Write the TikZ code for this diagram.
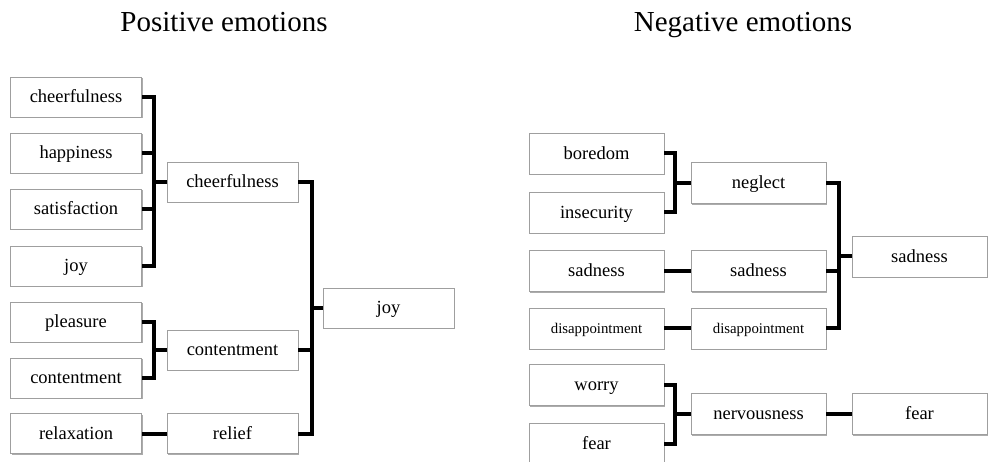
\documentclass[tikz,border=0pt]{standalone}
\usepackage{fontspec}
\setmainfont{Liberation Serif}
\usetikzlibrary{shadows}
\begin{document}
\begin{tikzpicture}[x=1pt,y=-1pt,
  emobox/.style={draw=gray!75,line width=0.8pt,fill=white,
    drop shadow={shadow xshift=1.3pt,shadow yshift=-1.3pt,fill=gray!65,opacity=1},
    minimum height=40pt,inner sep=0pt,text height=14pt,text depth=2.5pt,
    font=\fontsize{18.5}{20}\selectfont},
  colL/.style={emobox,minimum width=131pt},
  colR/.style={emobox,minimum width=135pt,minimum height=41pt},
  small/.style={font=\fontsize{14.8}{16}\selectfont,text height=12pt,text depth=1pt},
  br/.style={line width=4pt,line join=miter,black},
  title/.style={font=\fontsize{29}{32}\selectfont,inner sep=0pt,anchor=base}]
\useasboundingbox (0,0) rectangle (988,462);
\clip (0,0) rectangle (988,462);
\fill[white] (0,0) rectangle (988,462);

\node[title] (tpos) at (224,32) {Positive emotions};
\node[title] (tneg) at (743,32) {Negative emotions};

% ---- Positive ----
\node[colL] (p1) at (76,97) {cheerfulness};
\node[colL] (p2) at (76,153) {happiness};
\node[colL] (p3) at (76,209) {satisfaction};
\node[colL] (p4) at (76,266) {joy};
\node[colL] (p5) at (76,322) {pleasure};
\node[colL] (p6) at (76,378) {contentment};
\node[colL] (p7) at (76,433.5) {relaxation};

\node[colL] (q1) at (232.5,182) {cheerfulness};
\node[colL] (q2) at (232.5,350) {contentment};
\node[colL] (q3) at (232.5,433.5) {relief};

\node[colL] (r1) at (388.5,308) {joy};

\coordinate (xa) at (154,0);
\coordinate (xb) at (312,0);

\draw[br] (p1.east) -- (p1.east -| xa) -- (p4.east -| xa) -- (p4.east);
\draw[br] (p2.east) -- (p2.east -| xa);
\draw[br] (p3.east) -- (p3.east -| xa);
\draw[br] (q1.west -| xa) -- (q1.west);

\draw[br] (p5.east) -- (p5.east -| xa) -- (p6.east -| xa) -- (p6.east);
\draw[br] (q2.west -| xa) -- (q2.west);

\draw[br] (p7.east) -- (q3.west);

\draw[br] (q1.east) -- (q1.east -| xb) -- (q3.east -| xb) -- (q3.east);
\draw[br] (q2.east) -- (q2.east -| xb);
\draw[br] (r1.west -| xb) -- (r1.west);

% ---- Negative ----
\node[colR] (n1) at (596.5,153.5) {boredom};
\node[colR] (n2) at (596.5,212.5) {insecurity};
\node[colR] (n3) at (596.5,271) {sadness};
\node[colR,small] (n4) at (596.5,328.5) {disappointment};
\node[colR] (n5) at (596.5,385) {worry};
\node[colR] (n6) at (596.5,443.5) {fear};

\node[colR] (m1) at (758.5,183) {neglect};
\node[colR] (m2) at (758.5,271) {sadness};
\node[colR,small] (m3) at (758.5,328.5) {disappointment};
\node[colR] (m4) at (758.5,414) {nervousness};

\node[colR] (s1) at (919.5,256.5) {sadness};
\node[colR] (s2) at (919.5,414) {fear};

\coordinate (xc) at (675,0);
\coordinate (xd) at (839,0);

\draw[br] (n1.east) -- (n1.east -| xc) -- (n2.east -| xc) -- (n2.east);
\draw[br] (m1.west -| xc) -- (m1.west);
\draw[br] (n3.east) -- (m2.west);
\draw[br] (n4.east) -- (m3.west);

\draw[br] (n5.east) -- (n5.east -| xc) -- (n6.east -| xc) -- (n6.east);
\draw[br] (m4.west -| xc) -- (m4.west);
\draw[br] (m4.east) -- (s2.west);

\draw[br] (m1.east) -- (m1.east -| xd) -- (m3.east -| xd) -- (m3.east);
\draw[br] (m2.east) -- (m2.east -| xd);
\draw[br] (s1.west -| xd) -- (s1.west);
\end{tikzpicture}
\end{document}
